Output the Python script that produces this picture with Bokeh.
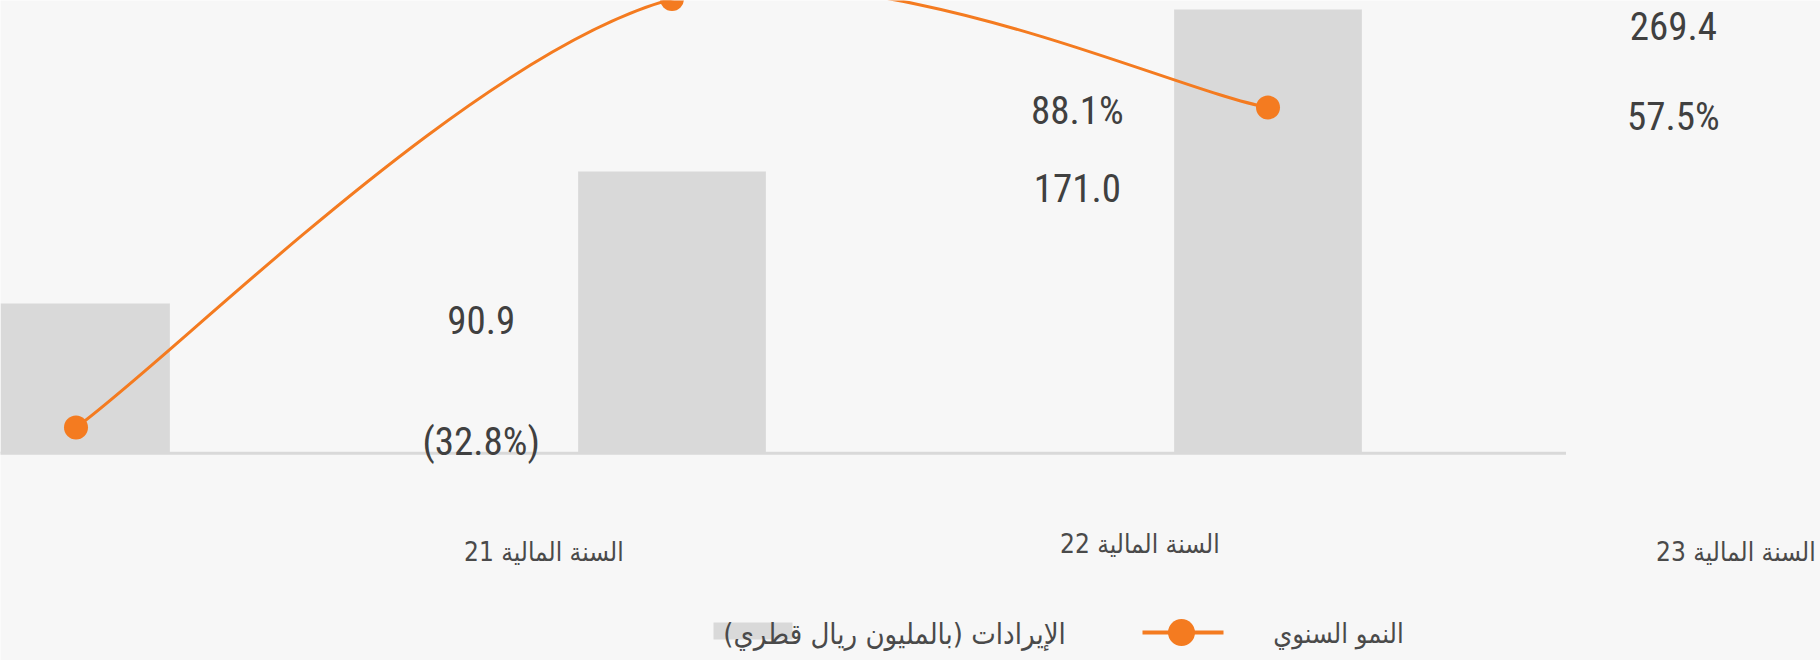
from bokeh.plotting import figure
from bokeh.models import Range1d
from bokeh.core.properties import value
from bokeh.embed import file_html
from bokeh.resources import INLINE

# ---------------- data ----------------
categories = ["السنة المالية 21", "السنة المالية 22", "السنة المالية 23"]
revenue = [90.9, 171.0, 269.4]
growth = [-32.8, 88.1, 57.5]
revenue_labels = ["90.9", "171.0", "269.4"]
growth_labels = ["(32.8%)", "88.1%", "57.5%"]
legend_labels = ["الإيرادات (بالمليون ريال قطري)", "النمو السنوي"]

# ---------------- layout constants (pixels) ----------------
W, H = 1820, 660
CAT_PX = 596.0        # pixels per category
X0_PX = 75.5          # pixel position of first category centre
BASE_PX = 452.7       # pixel y of revenue zero
REV_PX = 1.647        # pixels per revenue unit
G0_PX = 310.8         # pixel y of 0 % growth
G_PX = 3.544          # pixels per growth percent point
BAR_W = 0.315
LABEL_DX = 0.68       # data-label horizontal shift (categories)
CAT_DX = 0.785        # category-label horizontal shift (categories)
REV_LABEL_DY = 16.5   # px below bar top
GROWTH_LABEL_Y = [441, 110, 116]
CAT_LABEL_Y = [551, 543, 551]

BG = "#f7f7f7"
BAR = "#d9d9d9"
ORANGE = "#f47b20"
TXT = "#404040"
TXT2 = "#4a4a4a"
NUM_FONT = "'Liberation Sans Narrow', 'Roboto Condensed', 'Liberation Sans', sans-serif"
AR_FONT = "'DejaVu Sans Condensed', 'DejaVu Sans', sans-serif"

idx = list(range(len(categories)))

p = figure(
    width=W, height=H,
    x_range=Range1d(-X0_PX / CAT_PX, (W - X0_PX) / CAT_PX),
    y_range=Range1d(-(H - BASE_PX) / REV_PX, BASE_PX / REV_PX),
    output_backend="svg", toolbar_location=None,
    x_axis_location=None, y_axis_location=None,
    min_border=0, outline_line_color=None,
    background_fill_color=BG, border_fill_color=BG,
)
p.grid.visible = False
p.extra_y_ranges = {
    "growth": Range1d((G0_PX - H) / G_PX, G0_PX / G_PX),
    "px": Range1d(H, 0),
}
p.extra_x_ranges = {"px": Range1d(0, W)}

# bars
p.vbar(x=idx, top=revenue, bottom=0, width=BAR_W, fill_color=BAR, line_color=None)

# category axis line
p.segment(x0=[-0.5], x1=[len(categories) - 0.5], y0=[0], y1=[0],
          line_color=BAR, line_width=3)

# smoothed growth line (Catmull-Rom -> cubic Bezier)
n = len(growth)
pts = list(zip(idx, growth))
x0s, y0s, x1s, y1s, cx0, cy0, cx1, cy1 = ([] for _ in range(8))
for i in range(n - 1):
    pm = pts[i - 1] if i > 0 else pts[i]
    pa = pts[i]
    pb = pts[i + 1]
    pn = pts[i + 2] if i + 2 < n else pts[i + 1]
    x0s.append(pa[0]); y0s.append(pa[1])
    x1s.append(pb[0]); y1s.append(pb[1])
    cx0.append(pa[0] + (pb[0] - pm[0]) / 6); cy0.append(pa[1] + (pb[1] - pm[1]) / 6)
    cx1.append(pb[0] - (pn[0] - pa[0]) / 6); cy1.append(pb[1] - (pn[1] - pa[1]) / 6)
p.bezier(x0=x0s, y0=y0s, x1=x1s, y1=y1s, cx0=cx0, cy0=cy0, cx1=cx1, cy1=cy1,
         line_color=ORANGE, line_width=3, y_range_name="growth")
p.scatter(x=idx, y=growth, size=24, fill_color=ORANGE, line_color=None,
          y_range_name="growth")

# revenue data labels
p.text(x=[i + LABEL_DX for i in idx],
       y=[v - REV_LABEL_DY / REV_PX for v in revenue],
       text=revenue_labels, text_font=value(NUM_FONT), text_font_size="39px",
       text_color=TXT, text_align="center", text_baseline="middle")

# growth data labels
p.text(x=[i + LABEL_DX for i in idx], y=GROWTH_LABEL_Y, y_range_name="px",
       text=growth_labels, text_font=value(NUM_FONT), text_font_size="39px",
       text_color=TXT, text_align="center", text_baseline="middle")

# category labels
p.text(x=[i + CAT_DX for i in idx], y=CAT_LABEL_Y, y_range_name="px",
       text=categories, text_font=value(AR_FONT), text_font_size="26px",
       text_color=TXT2, text_align="center", text_baseline="middle")

# legend (drawn manually)
p.quad(left=[713], right=[792], bottom=[639], top=[622], x_range_name="px",
       y_range_name="px", fill_color=BAR, line_color=None)
p.text(x=[894], y=[633], x_range_name="px", y_range_name="px",
       text=[legend_labels[0] + "\u200f"], text_font=value(AR_FONT),
       text_font_size="29px", text_color=TXT2, text_align="center",
       text_baseline="middle")
p.segment(x0=[1142], x1=[1223], y0=[632], y1=[632], x_range_name="px",
          y_range_name="px", line_color=ORANGE, line_width=4)
p.scatter(x=[1181], y=[632], x_range_name="px", y_range_name="px", size=27,
          fill_color=ORANGE, line_color=None)
p.text(x=[1338], y=[633], x_range_name="px", y_range_name="px",
       text=[legend_labels[1]], text_font=value(AR_FONT),
       text_font_size="27px", text_color=TXT2, text_align="center",
       text_baseline="middle")

open("out.html", "w").write(file_html(p, INLINE))
